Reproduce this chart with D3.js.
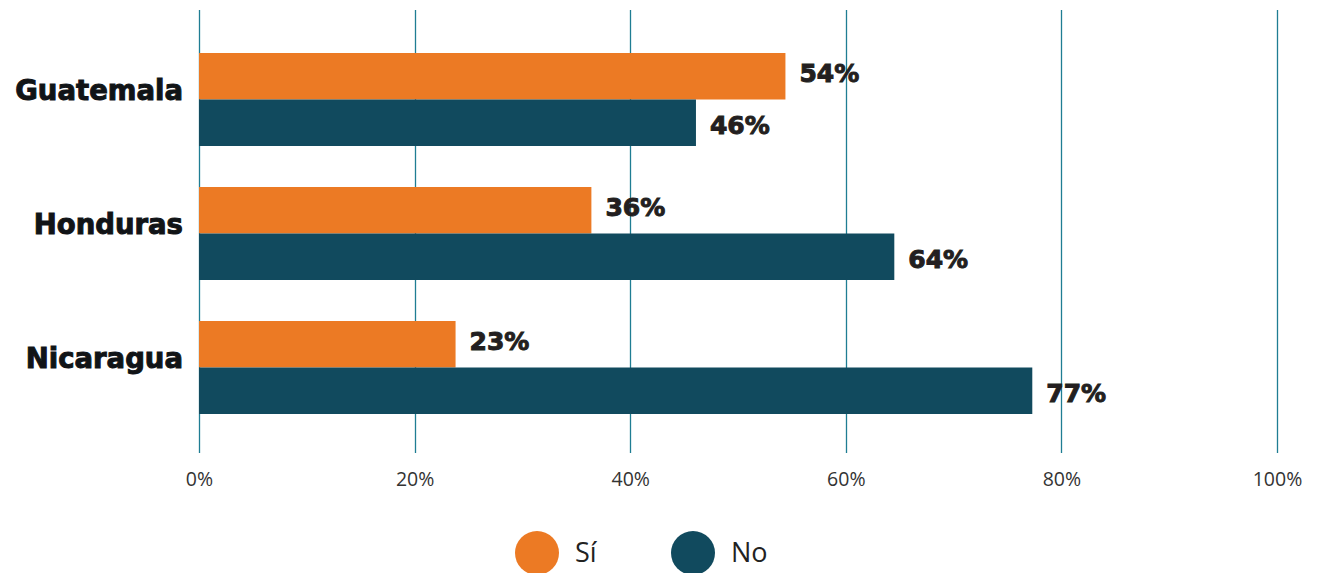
<!DOCTYPE html>
<html>
<head>
<meta charset="utf-8">
<script src="https://cdn.jsdelivr.net/npm/d3@7"></script>
<style>
    body { margin: 0; background: #fff; }
    .cat { font-family: "DejaVu Sans", sans-serif; font-weight: bold; font-size: 27.5px; fill: #111417; stroke: #111417; stroke-width: 1px; }
    .val { font-family: "DejaVu Sans", sans-serif; font-weight: bold; font-size: 25px; fill: #231f20; stroke: #231f20; stroke-width: 1px; }
    .tick text { font-family: "Open Sans", sans-serif; font-size: 19.5px; fill: #333; }
    .legend { font-family: "Open Sans", sans-serif; font-size: 27px; fill: #222; }
</style>
</head>
<body>
<svg></svg>
<script>
// data
const countries = ["Guatemala", "Honduras", "Nicaragua"];
const series = ["Sí", "No"];
const siValues = [54.4, 36.4, 23.8];
const noValues = [46.1, 64.5, 77.3];
const xTicks = [0, 20, 40, 60, 80, 100];

function drawChart() {
    const svgWidth = 1317, svgHeight = 573;
    const colors = { "Sí": "#ec7a24", "No": "#114a5e" };

    const svg = d3.select("svg")
        .attr("width", svgWidth)
        .attr("height", svgHeight);

    const data = countries.map((c, i) => ({ country: c, "Sí": siValues[i], "No": noValues[i] }));

    // scales
    const x = d3.scaleLinear()
        .domain([0, 100])
        .range([199, 1277]);

    const y = d3.scaleBand()
        .domain(countries)
        .range([53, 414])
        .paddingInner(0.306)
        .paddingOuter(0);

    const ySub = d3.scaleBand()
        .domain(series)
        .range([0, y.bandwidth()]);

    // gridlines
    svg.append("g")
        .selectAll("line")
        .data(xTicks)
        .join("line")
        .attr("x1", d => Math.round(x(d)) + 0.5)
        .attr("x2", d => Math.round(x(d)) + 0.5)
        .attr("y1", 10)
        .attr("y2", 453)
        .attr("stroke", "#1f7d93")
        .attr("stroke-width", 1.3);

    // x axis labels
    const xAxis = svg.append("g")
        .attr("transform", "translate(0, 453)")
        .call(d3.axisBottom(x)
            .tickValues(xTicks)
            .tickSize(0)
            .tickPadding(19)
            .tickFormat(d => d + "%"));
    xAxis.select(".domain").remove();

    // bars
    const groups = svg.append("g")
        .selectAll("g")
        .data(data)
        .join("g")
        .attr("transform", d => `translate(0, ${y(d.country)})`);

    groups.selectAll("rect")
        .data(d => series.map(s => ({ key: s, value: d[s] })))
        .join("rect")
        .attr("x", x(0))
        .attr("y", d => ySub(d.key))
        .attr("width", d => x(d.value) - x(0))
        .attr("height", ySub.bandwidth())
        .attr("fill", d => colors[d.key]);

    // value labels
    groups.selectAll("text.val")
        .data(d => series.map(s => ({ key: s, value: d[s] })))
        .join("text")
        .attr("class", "val")
        .attr("x", d => x(d.value) + 14)
        .attr("y", d => ySub(d.key) + ySub.bandwidth() / 2 + (d.key === "Sí" ? -3 : 3))
        .attr("dy", "0.35em")
        .text(d => Math.floor(d.value) + "%");

    // country labels
    svg.append("g")
        .selectAll("text")
        .data(countries)
        .join("text")
        .attr("class", "cat")
        .attr("x", 183)
        .attr("y", d => y(d) + y.bandwidth() / 2 - 9)
        .attr("dy", "0.35em")
        .attr("text-anchor", "end")
        .text(d => d);

    // legend
    const legend = svg.append("g")
        .selectAll("g")
        .data(series)
        .join("g")
        .attr("transform", (d, i) => `translate(${537 + i * 156}, 553)`);

    legend.append("circle")
        .attr("r", 22)
        .attr("fill", d => colors[d]);

    legend.append("text")
        .attr("class", "legend")
        .attr("x", 38)
        .attr("dy", "0.35em")
        .text(d => d);
}

// run
drawChart();
</script>
</body>
</html>
